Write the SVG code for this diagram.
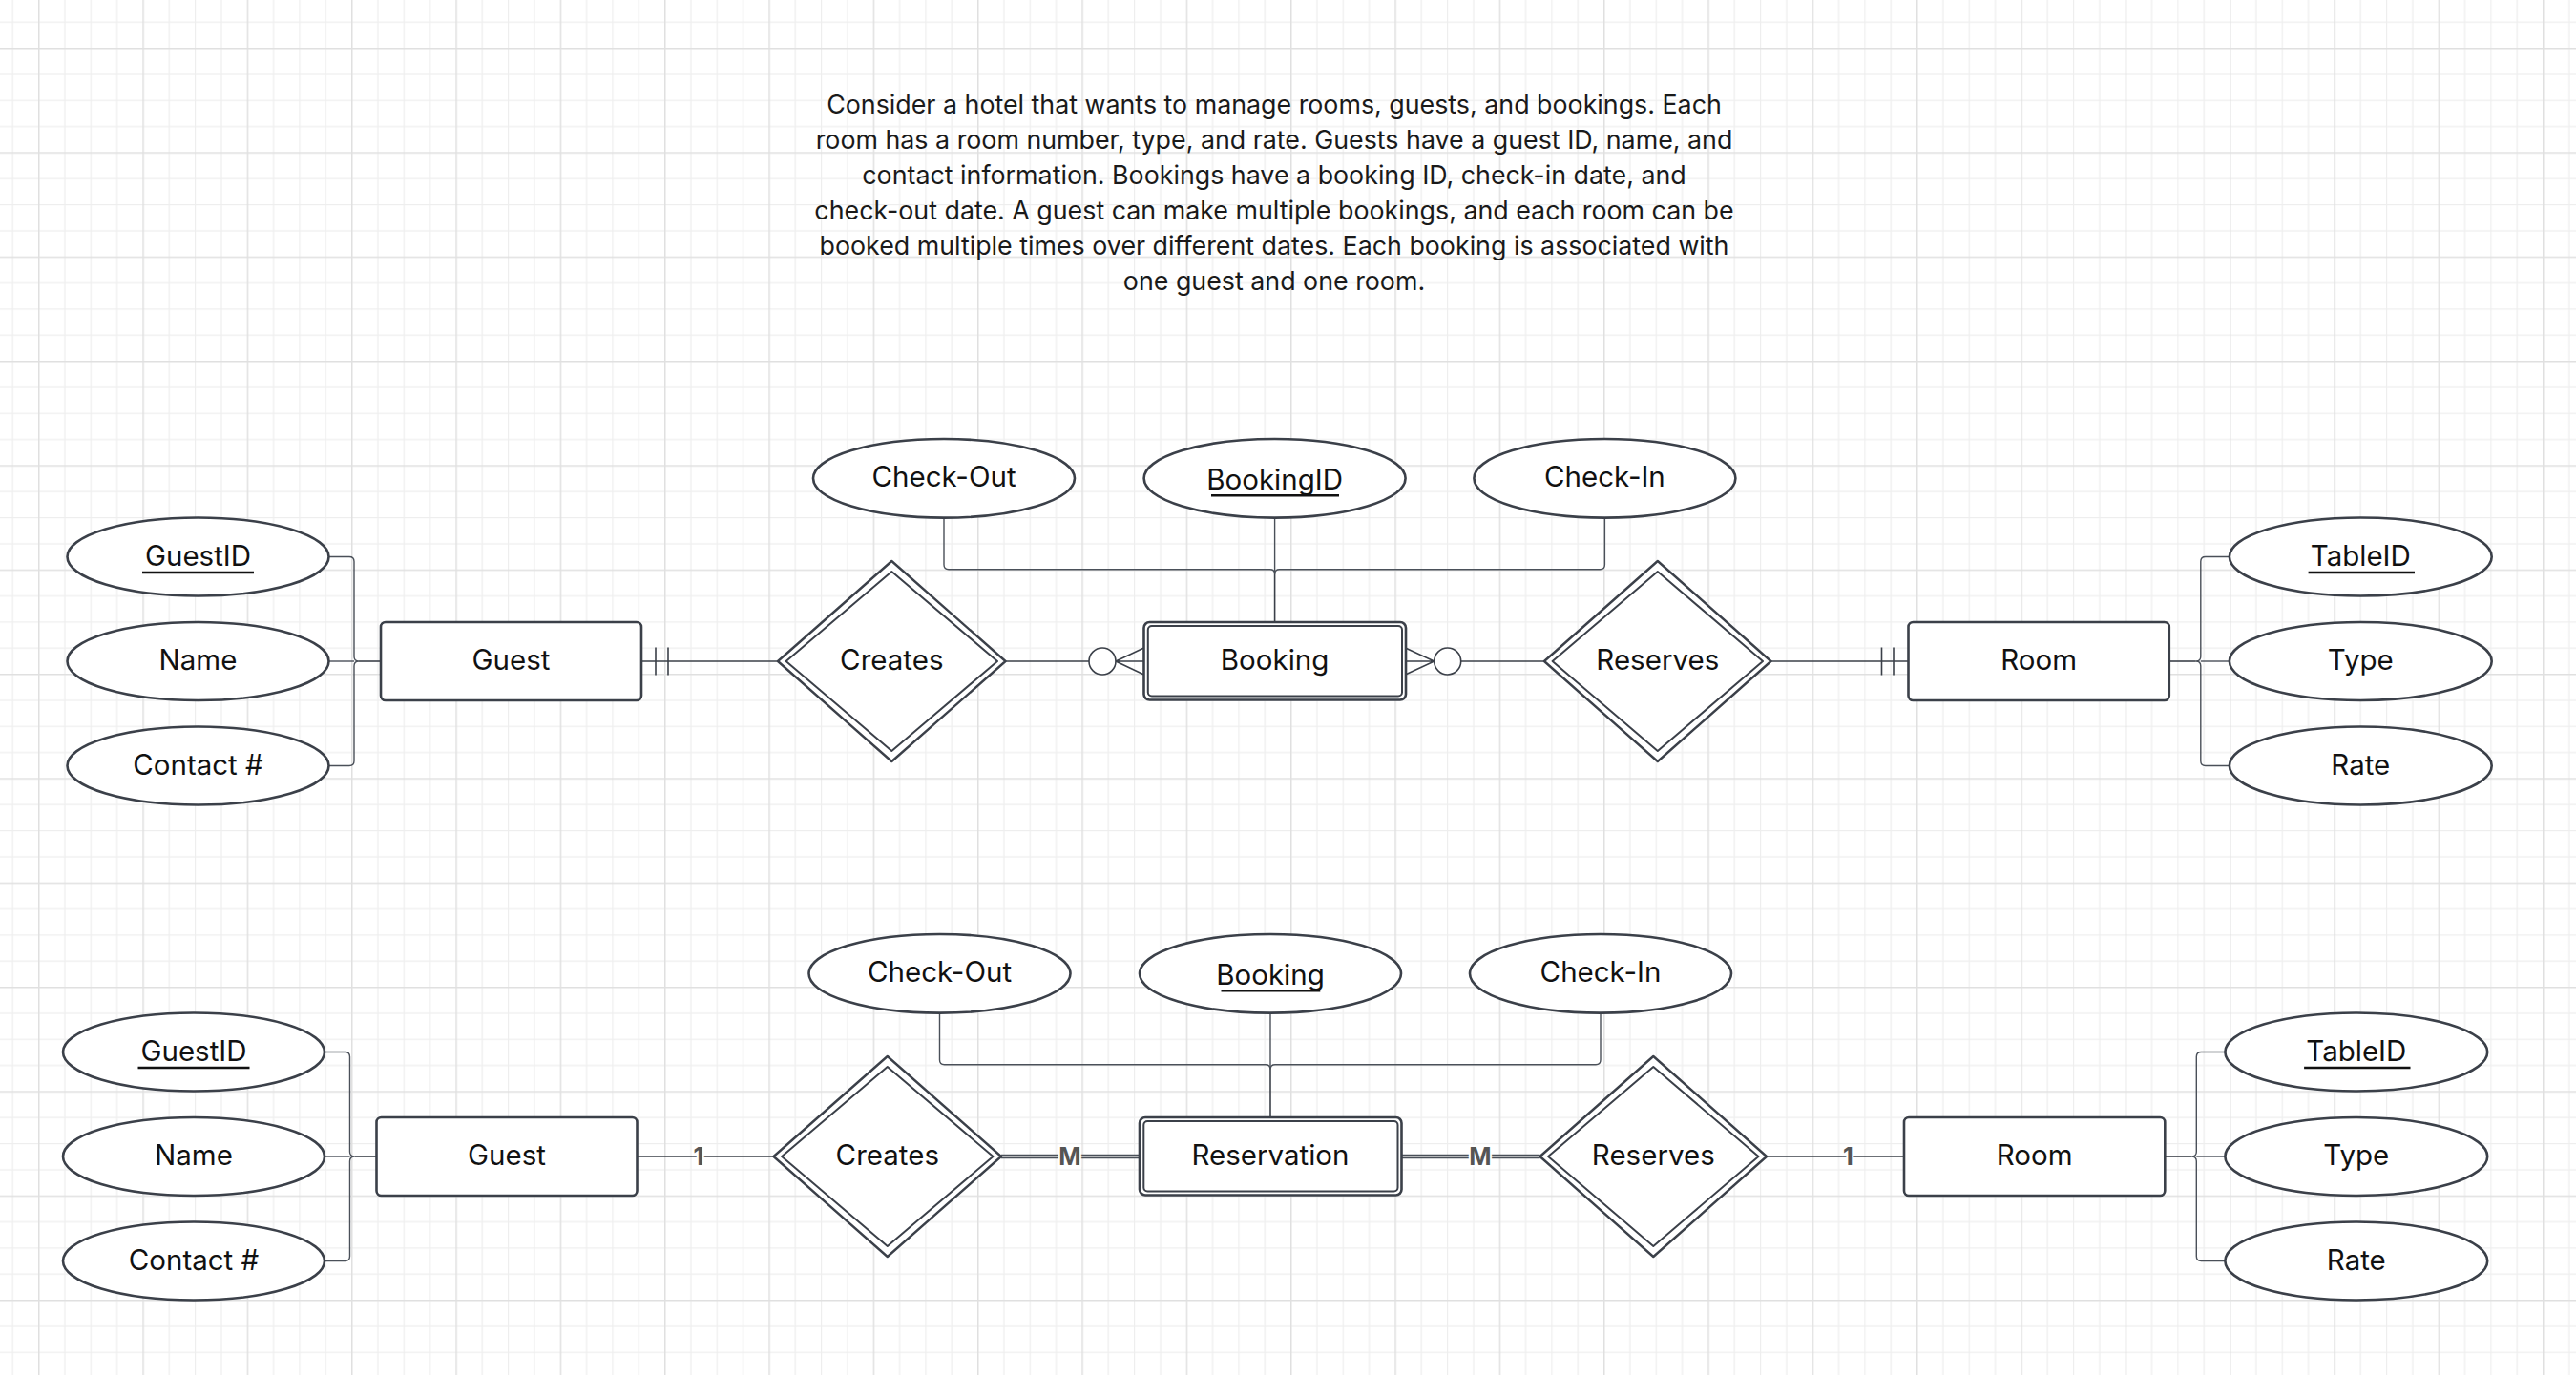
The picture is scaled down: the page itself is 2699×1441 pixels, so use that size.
<svg xmlns="http://www.w3.org/2000/svg" width="2699" height="1441" viewBox="0 0 2699 1441">
<defs>
<pattern id="grid" x="40" y="50" width="109.333" height="109.333" patternUnits="userSpaceOnUse">
<rect x="27.333" y="0" width="1.2" height="109.333" fill="#eeeeee"/>
<rect x="54.667" y="0" width="1.2" height="109.333" fill="#eeeeee"/>
<rect x="82" y="0" width="1.2" height="109.333" fill="#eeeeee"/>
<rect x="0" y="27.333" width="109.333" height="1.2" fill="#eeeeee"/>
<rect x="0" y="54.667" width="109.333" height="1.2" fill="#eeeeee"/>
<rect x="0" y="82" width="109.333" height="1.2" fill="#eeeeee"/>
<rect x="0" y="0" width="1.5" height="109.333" fill="#e0e0e0"/>
<rect x="0" y="0" width="109.333" height="1.5" fill="#e0e0e0"/>
</pattern>
</defs>
<style>
.attr{fill:#fff;stroke:#3b4049;stroke-width:2.6}
.ent{fill:#fff;stroke:#3b4049;stroke-width:2.6}
.inner{fill:none;stroke:#3b4049;stroke-width:2}
.rel{fill:#fff;stroke:#3b4049;stroke-width:2.4;stroke-linejoin:round}
.lbl{font-family:Inter,"Liberation Sans",sans-serif;font-size:29.5px;fill:#111;text-anchor:middle}
.para{font-family:Inter,"Liberation Sans",sans-serif;font-size:26.8px;fill:#1a1a1a;text-anchor:middle}
.ul{stroke:#111;stroke-width:2.4}
.ln{fill:none;stroke:#3b4049;stroke-width:1.6}
.thin{fill:none;stroke:#4a5059;stroke-width:1.4}
.ring{fill:#fff;stroke:#3b4049;stroke-width:1.6}
.dbl{fill:none;stroke:#4a5059;stroke-width:4.6}
.dblw{fill:none;stroke:#d8d8d8;stroke-width:1.4}
.card{font-family:Inter,"Liberation Sans",sans-serif;font-size:25px;font-weight:700;fill:#555;text-anchor:middle;stroke:#fff;stroke-width:4;paint-order:stroke}
</style>
<rect width="2699" height="1441" fill="#fff"/>
<rect width="2699" height="1441" fill="url(#grid)"/>

<g id="description">
<text class="para" x="1335" y="119.3">Consider a hotel that wants to manage rooms, guests, and bookings. Each</text>
<text class="para" x="1335" y="156.2">room has a room number, type, and rate. Guests have a guest ID, name, and</text>
<text class="para" x="1335" y="193.1">contact information. Bookings have a booking ID, check-in date, and</text>
<text class="para" x="1335" y="230">check-out date. A guest can make multiple bookings, and each room can be</text>
<text class="para" x="1335" y="266.9">booked multiple times over different dates. Each booking is associated with</text>
<text class="para" x="1335" y="303.8">one guest and one room.</text>
</g>

<g id="connectors">
<path class="thin" d="M344.5,583.5 H366 Q371,583.5 371,588.5 V688 Q371,693 376,693 Q371,693 371,698 V797.5 Q371,802.5 366,802.5 H344.5"/>
<path class="thin" d="M344.5,693 H371"/>
<path class="ln" d="M376,693 H399"/>
<path class="ln" d="M672,693 H815"/>
<path class="ln" d="M687,678.5 V707.5 M700,678.5 V707.5"/>
<path class="ln" d="M1053.5,693 H1141"/>
<circle class="ring" cx="1155" cy="693" r="14"/>
<path class="ln" d="M1169,693 H1198.5 M1169,693 L1198,679.3 M1169,693 L1198,706.7"/>
<path class="ln" d="M1472.5,693 H1502.7 M1473,679.3 L1502.7,693 L1473,706.7"/>
<circle class="ring" cx="1516.7" cy="693" r="14"/>
<path class="ln" d="M1530.7,693 H1618"/>
<path class="ln" d="M1855.5,693 H1999.5"/>
<path class="ln" d="M1971.5,678.5 V707.5 M1984,678.5 V707.5"/>
<path class="ln" d="M2272.8,693 H2300.8"/>
<path class="thin" d="M2336,583.5 H2310.8 Q2305.8,583.5 2305.8,588.5 V688 Q2305.8,693 2300.8,693 Q2305.8,693 2305.8,698 V797.5 Q2305.8,802.5 2310.8,802.5 H2336"/>
<path class="thin" d="M2305.8,693 H2336"/>
<path class="thin" d="M989,542.6 V591.7 Q989,596.7 994,596.7 H1330.6 Q1335.6,596.7 1335.6,601.7"/>
<path class="thin" d="M1681.4,542.6 V591.7 Q1681.4,596.7 1676.4,596.7 H1340.6 Q1335.6,596.7 1335.6,601.7"/>
<path class="thin" d="M1335.6,542.6 V601.7"/>
<path class="ln" d="M1335.6,601.7 V651.7"/>
<path class="thin" d="M340,1102.5 H361.5 Q366.5,1102.5 366.5,1107.5 V1207 Q366.5,1212 371.5,1212 Q366.5,1212 366.5,1217 V1316.5 Q366.5,1321.5 361.5,1321.5 H340"/>
<path class="thin" d="M340,1212 H366.5"/>
<path class="ln" d="M371.5,1212 H394.5"/>
<path class="ln" d="M667.5,1212 H810.5"/>
<path class="dbl" d="M1049,1212 H1194"/>
<path class="dblw" d="M1049,1212 H1194"/>
<path class="dbl" d="M1468,1212 H1613.5"/>
<path class="dblw" d="M1468,1212 H1613.5"/>
<path class="ln" d="M1851,1212 H1995"/>
<path class="ln" d="M2268.3,1212 H2296.3"/>
<path class="thin" d="M2331.5,1102.5 H2306.3 Q2301.3,1102.5 2301.3,1107.5 V1207 Q2301.3,1212 2296.3,1212 Q2301.3,1212 2301.3,1217 V1316.5 Q2301.3,1321.5 2306.3,1321.5 H2331.5"/>
<path class="thin" d="M2301.3,1212 H2331.5"/>
<path class="thin" d="M984.5,1061.6 V1110.7 Q984.5,1115.7 989.5,1115.7 H1326 Q1331,1115.7 1331,1120.7"/>
<path class="thin" d="M1677,1061.6 V1110.7 Q1677,1115.7 1672,1115.7 H1336 Q1331,1115.7 1331,1120.7"/>
<path class="thin" d="M1331,1061.6 V1120.7"/>
<path class="ln" d="M1331,1120.7 V1171"/>
<text class="card" x="732" y="1221">1</text>
<text class="card" x="1121" y="1221">M</text>
<text class="card" x="1551" y="1221">M</text>
<text class="card" x="1936.5" y="1221">1</text>
</g>

<g id="guest-guestid"><ellipse class="attr" cx="207.5" cy="583.5" rx="137" ry="41"/><text class="lbl" x="207.5" y="592.7">GuestID</text><line class="ul" x1="149" y1="600" x2="266" y2="600"/></g>
<g id="guest-name"><ellipse class="attr" cx="207.5" cy="693" rx="137" ry="41"/><text class="lbl" x="207.5" y="702">Name</text></g>
<g id="guest-contact"><ellipse class="attr" cx="207.5" cy="802.5" rx="137" ry="41"/><text class="lbl" x="207.5" y="811.5">Contact #</text></g>
<g id="guest"><rect class="ent" x="399" y="652" width="273" height="82" rx="5"/><text class="lbl" x="535.5" y="702">Guest</text></g>
<g id="creates"><polygon class="rel" points="934.3,588 1053.5,693 934.3,798 815,693"/><polygon class="inner" stroke-linejoin="round" points="934.3,599 1045,693 934.3,787 823.6,693"/><text class="lbl" x="934.3" y="702">Creates</text></g>
<g id="booking"><rect class="ent" x="1198.5" y="652" width="274.5" height="81.5" rx="6"/><rect class="inner" x="1202.8" y="656" width="266.2" height="73.5" rx="4"/><text class="lbl" x="1335.6" y="702">Booking</text></g>
<g id="booking-checkout"><ellipse class="attr" cx="989" cy="501.3" rx="137" ry="41.3"/><text class="lbl" x="989" y="510">Check-Out</text></g>
<g id="booking-bookingid"><ellipse class="attr" cx="1335.6" cy="501.3" rx="137" ry="41.3"/><text class="lbl" x="1335.6" y="513">BookingID</text><line class="ul" x1="1269" y1="519.3" x2="1403" y2="519.3"/></g>
<g id="booking-checkin"><ellipse class="attr" cx="1681.4" cy="501.3" rx="137" ry="41.3"/><text class="lbl" x="1681.4" y="510">Check-In</text></g>
<g id="reserves"><polygon class="rel" points="1736.8,588 1855.5,693 1736.8,798 1618,693"/><polygon class="inner" stroke-linejoin="round" points="1736.8,599 1847,693 1736.8,787 1626.6,693"/><text class="lbl" x="1736.8" y="702">Reserves</text></g>
<g id="room"><rect class="ent" x="1999.5" y="652" width="273.3" height="82" rx="5"/><text class="lbl" x="2136.1" y="702">Room</text></g>
<g id="room-tableid"><ellipse class="attr" cx="2473.3" cy="583.5" rx="137.4" ry="41"/><text class="lbl" x="2473.3" y="592.7">TableID</text><line class="ul" x1="2418.6" y1="600" x2="2530" y2="600"/></g>
<g id="room-type"><ellipse class="attr" cx="2473.3" cy="693" rx="137.4" ry="41"/><text class="lbl" x="2473.3" y="702">Type</text></g>
<g id="room-rate"><ellipse class="attr" cx="2473.3" cy="802.5" rx="137.4" ry="41"/><text class="lbl" x="2473.3" y="811.5">Rate</text></g>

<g id="guest2-guestid"><ellipse class="attr" cx="203" cy="1102.5" rx="137" ry="41"/><text class="lbl" x="203" y="1111.7">GuestID</text><line class="ul" x1="144.5" y1="1119" x2="261.5" y2="1119"/></g>
<g id="guest2-name"><ellipse class="attr" cx="203" cy="1212" rx="137" ry="41"/><text class="lbl" x="203" y="1221">Name</text></g>
<g id="guest2-contact"><ellipse class="attr" cx="203" cy="1321.5" rx="137" ry="41"/><text class="lbl" x="203" y="1330.5">Contact #</text></g>
<g id="guest2"><rect class="ent" x="394.5" y="1171" width="273" height="82" rx="5"/><text class="lbl" x="531" y="1221">Guest</text></g>
<g id="creates2"><polygon class="rel" points="929.8,1107 1049,1212 929.8,1317 810.5,1212"/><polygon class="inner" stroke-linejoin="round" points="929.8,1118 1040.5,1212 929.8,1306 819.1,1212"/><text class="lbl" x="929.8" y="1221">Creates</text></g>
<g id="reservation"><rect class="ent" x="1194" y="1171" width="274.5" height="81.5" rx="6"/><rect class="inner" x="1198.3" y="1175" width="266.2" height="73.5" rx="4"/><text class="lbl" x="1331" y="1221">Reservation</text></g>
<g id="reservation-checkout"><ellipse class="attr" cx="984.5" cy="1020.3" rx="137" ry="41.3"/><text class="lbl" x="984.5" y="1029">Check-Out</text></g>
<g id="reservation-booking"><ellipse class="attr" cx="1331" cy="1020.3" rx="137" ry="41.3"/><text class="lbl" x="1331" y="1032">Booking</text><line class="ul" x1="1279.5" y1="1038.3" x2="1383.3" y2="1038.3"/></g>
<g id="reservation-checkin"><ellipse class="attr" cx="1677" cy="1020.3" rx="137" ry="41.3"/><text class="lbl" x="1677" y="1029">Check-In</text></g>
<g id="reserves2"><polygon class="rel" points="1732.3,1107 1851,1212 1732.3,1317 1613.5,1212"/><polygon class="inner" stroke-linejoin="round" points="1732.3,1118 1842.5,1212 1732.3,1306 1622.1,1212"/><text class="lbl" x="1732.3" y="1221">Reserves</text></g>
<g id="room2"><rect class="ent" x="1995" y="1171" width="273.3" height="82" rx="5"/><text class="lbl" x="2131.6" y="1221">Room</text></g>
<g id="room2-tableid"><ellipse class="attr" cx="2468.8" cy="1102.5" rx="137.4" ry="41"/><text class="lbl" x="2468.8" y="1111.7">TableID</text><line class="ul" x1="2414.1" y1="1119" x2="2525.5" y2="1119"/></g>
<g id="room2-type"><ellipse class="attr" cx="2468.8" cy="1212" rx="137.4" ry="41"/><text class="lbl" x="2468.8" y="1221">Type</text></g>
<g id="room2-rate"><ellipse class="attr" cx="2468.8" cy="1321.5" rx="137.4" ry="41"/><text class="lbl" x="2468.8" y="1330.5">Rate</text></g>
</svg>
